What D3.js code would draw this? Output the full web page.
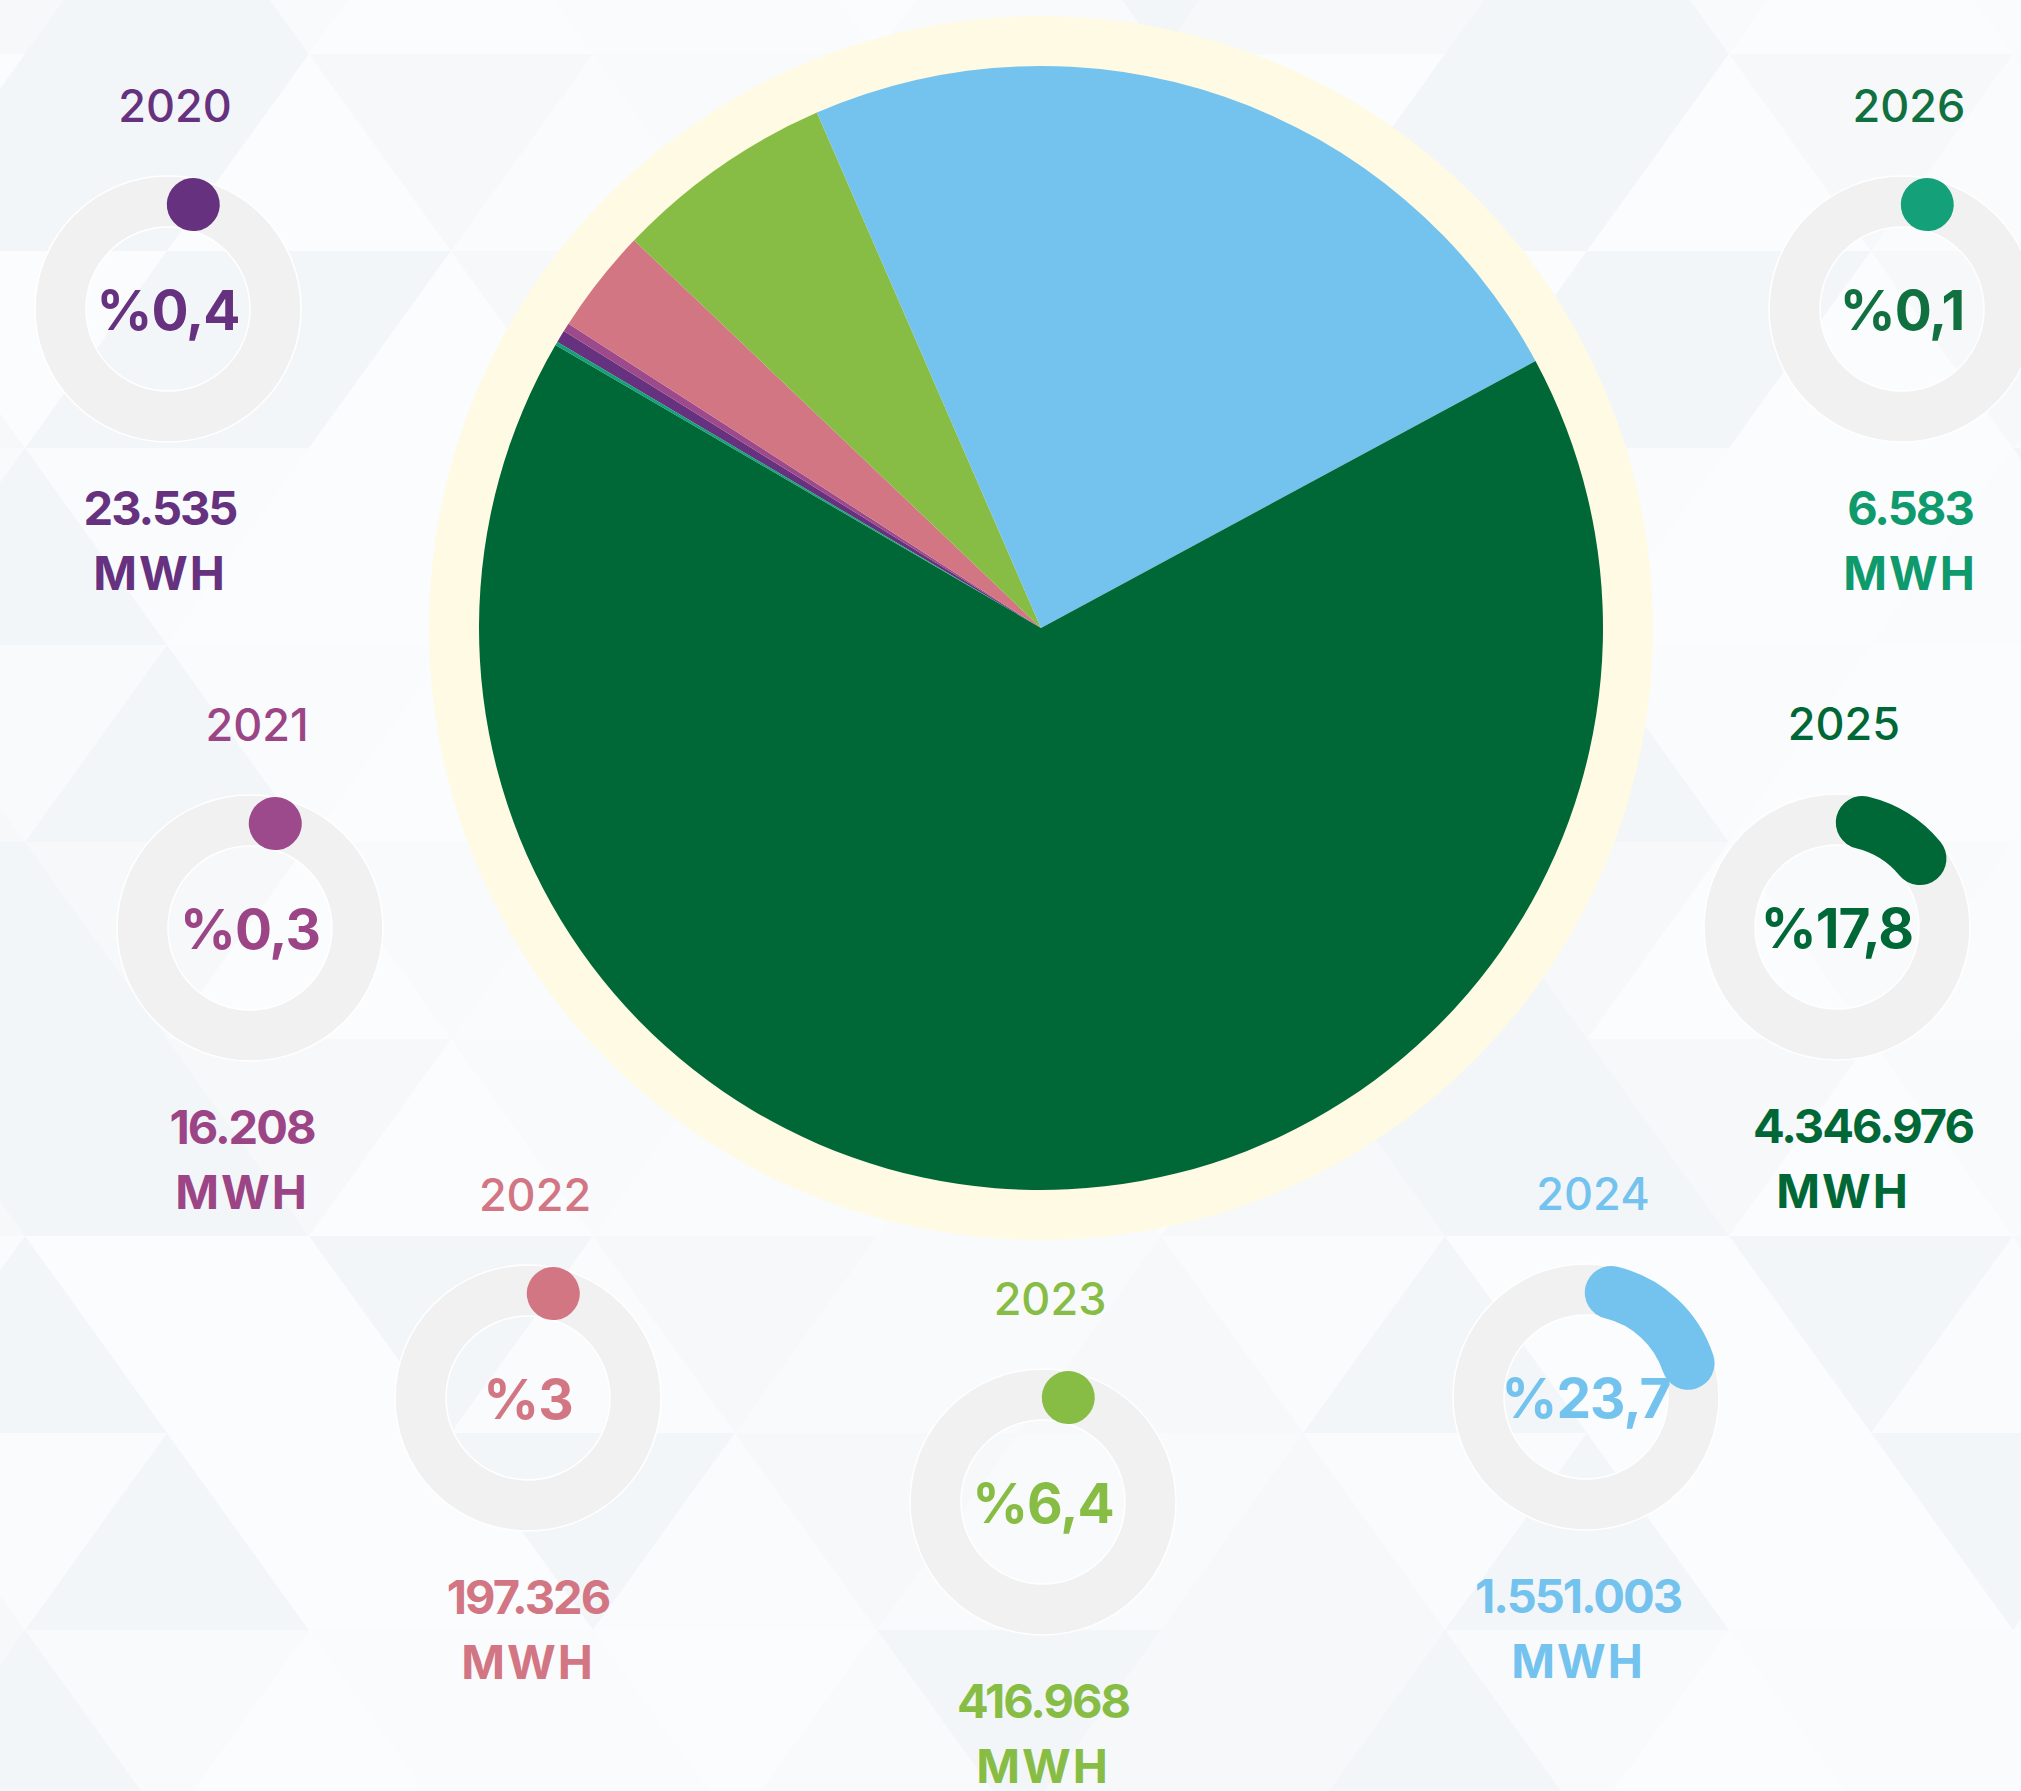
<!DOCTYPE html>
<html>
<head>
<meta charset="utf-8">
<script src="https://cdn.jsdelivr.net/npm/d3@7"></script>
<style>
  body { margin: 0; background: #f8f9fb; }
  svg { display: block; }
  text { font-family: Inter, "DejaVu Sans", sans-serif; }
</style>
</head>
<body>
<div id="chart"></div>
<script>
// yearly energy figures as printed on the graphic
const years = ["2020", "2021", "2022", "2023", "2024", "2025", "2026"];
const energy = [23535, 16208, 197326, 416968, 1551003, 4346976, 6583];
// percent labels (and gauge fill) as printed
const shares = [0.4, 0.3, 3, 6.4, 23.7, 17.8, 0.1];
const unit = "MWH";

const sliceColors = ["#66327f", "#9c4a8c", "#d27684", "#88bd45", "#73c3ee", "#006837", "#14a078"];
const labelColors = ["#66327f", "#9c4586", "#d27684", "#88bd45", "#73c3ee", "#006837", "#11703f"];
const valueColors = ["#66327f", "#9c4586", "#d27684", "#88bd45", "#73c3ee", "#006837", "#0e9a6c"];

// where each gauge sits on the page
const slots = [
  {x: 168,  y: 309,  vdx: -8, mdx: -8},
  {x: 250,  y: 928,  vdx: -8, mdx: -8},
  {x: 528,  y: 1398, vdx: 0,  mdx: 0},
  {x: 1043, y: 1502, vdx: 0,  mdx: 0},
  {x: 1586, y: 1397, vdx: -8, mdx: -8},
  {x: 1837, y: 927,  vdx: 26, mdx: 6},
  {x: 1902, y: 309,  vdx: 8,  mdx: 8}
];

const svgWidth = 2021;
const svgHeight = 1791;

const svg = d3.select("#chart")
  .append("svg")
  .attr("width", svgWidth)
  .attr("height", svgHeight);

// background: soft triangle tiling
const bg = svg.append("g");
bg.append("rect").attr("width", svgWidth).attr("height", svgHeight).attr("fill", "#f8f9fb");
const rowH = 197, triW = 284, yStart = 54 - 197, xStart = 451 - 284 * 3;
const shades = ["#f3f6f9", "#f9fafc", "#fbfcfd", "#f6f8fa", "#fafbfc"];
for (let r = 0; r < 11; r++) {
  const yt = yStart + r * rowH, yb = yt + rowH;
  const topShift = (r % 2) * triW / 2, botShift = ((r + 1) % 2) * triW / 2;
  for (let n = 0; n < 14; n++) {
    const tx = xStart + topShift + n * triW;
    const bx = xStart + botShift + n * triW;
    // down-pointing
    bg.append("path")
      .attr("d", `M${tx},${yt}L${tx + triW},${yt}L${tx + triW / 2},${yb}Z`)
      .attr("fill", shades[(r * 7 + n * 3) % 5]);
    // up-pointing
    bg.append("path")
      .attr("d", `M${bx},${yb}L${bx + triW},${yb}L${bx + triW / 2},${yt}Z`)
      .attr("fill", shades[(r * 5 + n * 2 + 3) % 5]);
  }
}

// main pie
const pieCx = 1041, pieCy = 628, pieR = 562;
const pieGroup = svg.append("g").attr("transform", `translate(${pieCx}, ${pieCy})`);

pieGroup.append("circle").attr("r", 612).attr("fill", "#fffae3");

const start = -59.4 * Math.PI / 180;
const pie = d3.pie().sort(null).value(d => d).startAngle(start).endAngle(start + 2 * Math.PI);
const arc = d3.arc().innerRadius(0).outerRadius(pieR);

pieGroup.selectAll("path.slice")
  .data(pie(energy))
  .enter()
  .append("path")
  .attr("class", "slice")
  .attr("d", arc)
  .attr("fill", (d, i) => sliceColors[i]);

// small gauges
const ringInner = 82, ringOuter = 133;
const ringMid = (ringInner + ringOuter) / 2;
const ringW = ringOuter - ringInner;
const capAng = (ringW / 2) / ringMid;
const angle = d3.scaleLinear().domain([0, 100]).range([0, 2 * Math.PI]);
const fmt = d3.formatLocale({decimal: ",", thousands: ".", grouping: [3], currency: ["", ""]});
const pctFmt = fmt.format("~g");
const valFmt = fmt.format(",d");

const gauges = svg.selectAll("g.gauge")
  .data(years)
  .enter()
  .append("g")
  .attr("class", "gauge")
  .attr("transform", (d, i) => `translate(${slots[i].x}, ${slots[i].y})`);

gauges.append("circle")
  .attr("r", ringMid)
  .attr("fill", "none")
  .attr("stroke", "#f1f1f1")
  .attr("stroke-width", ringW);

gauges.append("circle").attr("r", ringOuter).attr("fill", "none").attr("stroke", "#ffffff").attr("stroke-width", 1.5);
gauges.append("circle").attr("r", ringInner).attr("fill", "none").attr("stroke", "#ffffff").attr("stroke-width", 1.5);

gauges.append("path")
  .attr("d", (d, i) => {
    const a0 = capAng;
    const a1 = Math.max(capAng + 0.0001, angle(shares[i]) - capAng);
    const p = d3.path();
    p.arc(0, 0, ringMid, a0 - Math.PI / 2, a1 - Math.PI / 2);
    return p.toString();
  })
  .attr("fill", "none")
  .attr("stroke", (d, i) => sliceColors[i])
  .attr("stroke-width", ringW + 2)
  .attr("stroke-linecap", "round");

gauges.append("text")
  .attr("x", 7)
  .attr("y", -187)
  .attr("text-anchor", "middle")
  .attr("font-size", 45)
  .attr("font-weight", 500)
  .attr("fill", (d, i) => labelColors[i])
  .text(d => d);

gauges.append("text")
  .attr("x", 0)
  .attr("y", 21)
  .attr("text-anchor", "middle")
  .attr("font-size", 55)
  .attr("font-weight", 700)
  .attr("letter-spacing", -1)
  .attr("fill", (d, i) => labelColors[i])
  .text((d, i) => "%" + pctFmt(shares[i]));

gauges.append("text")
  .attr("x", (d, i) => slots[i].vdx)
  .attr("y", 216)
  .attr("text-anchor", "middle")
  .attr("font-size", 47)
  .attr("font-weight", 700)
  .attr("letter-spacing", -2)
  .attr("fill", (d, i) => valueColors[i])
  .text((d, i) => valFmt(energy[i]));

gauges.append("text")
  .attr("x", (d, i) => slots[i].mdx)
  .attr("y", 281)
  .attr("text-anchor", "middle")
  .attr("font-size", 47)
  .attr("font-weight", 700)
  .attr("letter-spacing", 2)
  .attr("fill", (d, i) => valueColors[i])
  .text(unit);
</script>
</body>
</html>
